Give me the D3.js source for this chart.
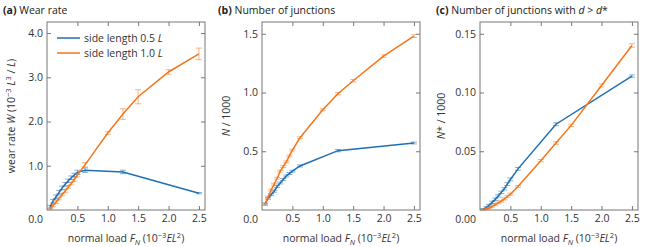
<!DOCTYPE html>
<html>
<head>
<meta charset="UTF-8">
<title>Wear rate and junctions</title>
<script src="https://d3js.org/d3.v7.min.js"></script>
<style>
  body { margin: 0; padding: 0; background: #fff; }
  svg { display: block; font-family: "Open Sans", "Noto Sans", sans-serif; }
  .tick text { font-size: 10.5px; fill: #333; }
  .tick line { stroke: #777; }
  .frame { fill: none; stroke: #777; stroke-width: 1; }
  .lbl { font-size: 10.5px; fill: #333; }
  .ttl { font-size: 10.5px; fill: #222; }
</style>
</head>
<body>
<svg id="chart" width="650" height="247"></svg>
<script>
// loads shared by the series
const loadSmall = [0.05, 0.1, 0.15, 0.2, 0.25, 0.3, 0.35, 0.4, 0.45, 0.5, 0.625, 1.25, 2.5];
const loadLarge = [0.05, 0.1, 0.15, 0.2, 0.25, 0.3, 0.35, 0.4, 0.45, 0.5, 0.625, 1.0, 1.25, 1.5, 2.0, 2.5];

// (a) wear rate
const wearSmall    = [0.07, 0.2, 0.3, 0.4, 0.5, 0.58, 0.66, 0.73, 0.79, 0.85, 0.9, 0.86, 0.38];
const wearSmallErr = [0.03, 0.04, 0.04, 0.04, 0.04, 0.04, 0.04, 0.04, 0.04, 0.05, 0.05, 0.04, 0.015];
const wearLarge    = [0.03, 0.1, 0.18, 0.26, 0.35, 0.43, 0.52, 0.6, 0.69, 0.79, 1.02, 1.74, 2.17, 2.56, 3.12, 3.53];
const wearLargeErr = [0.02, 0.03, 0.03, 0.03, 0.03, 0.03, 0.03, 0.03, 0.04, 0.04, 0.05, 0.03, 0.12, 0.16, 0.05, 0.13];

// (b) number of junctions / 1000
const junSmall    = [0.05, 0.1, 0.13, 0.16, 0.2, 0.23, 0.26, 0.29, 0.31, 0.33, 0.375, 0.505, 0.57];
const junSmallErr = [0.008, 0.008, 0.008, 0.008, 0.008, 0.008, 0.008, 0.008, 0.008, 0.008, 0.009, 0.01, 0.008];
const junLarge    = [0.05, 0.11, 0.17, 0.22, 0.27, 0.33, 0.37, 0.41, 0.46, 0.51, 0.615, 0.853, 0.99, 1.10, 1.31, 1.48];
const junLargeErr = [0.008, 0.008, 0.008, 0.008, 0.008, 0.008, 0.008, 0.008, 0.008, 0.008, 0.008, 0.008, 0.01, 0.01, 0.01, 0.012];

// (c) junctions with d > d*, / 1000
const bigSmall    = [0.0007, 0.002, 0.004, 0.0065, 0.009, 0.012, 0.015, 0.018, 0.022, 0.026, 0.035, 0.073, 0.114];
const bigSmallErr = [0.0005, 0.0007, 0.0008, 0.001, 0.001, 0.001, 0.001, 0.001, 0.0012, 0.0012, 0.0012, 0.0012, 0.001];
const bigLarge    = [0.0002, 0.0008, 0.0017, 0.003, 0.0045, 0.006, 0.0075, 0.0095, 0.0115, 0.0135, 0.02, 0.042, 0.057, 0.072, 0.106, 0.14];
const bigLargeErr = [0.0003, 0.0004, 0.0005, 0.0006, 0.0006, 0.0007, 0.0007, 0.0008, 0.0008, 0.0008, 0.0008, 0.001, 0.001, 0.001, 0.0012, 0.0015];

const xTicks = [0.5, 1.0, 1.5, 2.0, 2.5];
const seriesNames = ["side length 0.5 ", "side length 1.0 "];
const colors = ["#1f6fb4", "#f5761a"];

const panels = [
  { left: 47,  tag: "(a)", title: "Wear rate", yMax: 4.25, yTicks: [1, 2, 3, 4], fmt: ".1f", zero: "0.0",
    data: [[loadSmall, wearSmall, wearSmallErr], [loadLarge, wearLarge, wearLargeErr]], ylabel: "a", ylx: 15 },
  { left: 262, tag: "(b)", title: "Number of junctions", yMax: 1.6, yTicks: [0.5, 1.0, 1.5], fmt: ".1f", zero: "0.0",
    data: [[loadSmall, junSmall, junSmallErr], [loadLarge, junLarge, junLargeErr]], ylabel: "b", ylx: 230 },
  { left: 480, tag: "(c)", title: "Number of junctions with ", yMax: 0.16, yTicks: [0.05, 0.10, 0.15], fmt: ".2f", zero: "0.00",
    data: [[loadSmall, bigSmall, bigSmallErr], [loadLarge, bigLarge, bigLargeErr]], ylabel: "c", ylx: 445 }
];

const plotTop = 22, plotH = 188, plotW = 158;
const svg = d3.select("#chart");

panels.forEach(p => {
  const g = svg.append("g").attr("transform", `translate(${p.left},${plotTop})`);
  const x = d3.scaleLinear().domain([0, 2.6]).range([0, plotW]);
  const y = d3.scaleLinear().domain([0, p.yMax]).range([plotH, 0]);

  // axes with inward ticks on all four sides
  const bottom = g.append("g").attr("transform", `translate(0,${plotH})`)
    .call(d3.axisBottom(x).tickValues(xTicks).tickSize(-4).tickPadding(5).tickFormat(d3.format(".1f")));
  const left = g.append("g")
    .call(d3.axisLeft(y).tickValues(p.yTicks).tickSize(-4).tickPadding(4).tickFormat(d3.format(p.fmt)));
  const topAx = g.append("g").call(d3.axisTop(x).tickValues(xTicks).tickSize(-4).tickFormat(""));
  const right = g.append("g").attr("transform", `translate(${plotW},0)`)
    .call(d3.axisRight(y).tickValues(p.yTicks).tickSize(-4).tickFormat(""));
  [bottom, left, topAx, right].forEach(a => a.select(".domain").remove());
  g.selectAll(".tick text").attr("font-family", null).attr("font-size", null);
  g.selectAll("g").attr("font-family", null).attr("font-size", null);

  g.append("rect").attr("class", "frame").attr("x", 0).attr("y", 0).attr("width", plotW).attr("height", plotH);

  // shared corner zero label
  g.append("text").attr("class", "lbl").attr("x", -4).attr("y", plotH + 13)
    .attr("text-anchor", "end").text(p.zero);

  // series
  p.data.forEach((s, i) => {
    const pts = s[0].map((v, k) => ({ x: v, y: s[1][k], e: s[2][k] }));
    const eb = g.append("g").attr("stroke", colors[i]).attr("stroke-opacity", 0.55).attr("stroke-width", 1);
    pts.forEach(d => {
      const cx = x(d.x), y1 = y(d.y - d.e), y2 = y(d.y + d.e);
      eb.append("line").attr("x1", cx).attr("x2", cx).attr("y1", y1).attr("y2", y2);
      eb.append("line").attr("x1", cx - 3).attr("x2", cx + 3).attr("y1", y1).attr("y2", y1);
      eb.append("line").attr("x1", cx - 3).attr("x2", cx + 3).attr("y1", y2).attr("y2", y2);
    });
    g.append("path").datum(pts)
      .attr("fill", "none").attr("stroke", colors[i]).attr("stroke-width", 1.5)
      .attr("d", d3.line().x(d => x(d.x)).y(d => y(d.y)));
  });

  // title
  const t = svg.append("text").attr("class", "ttl").attr("x", p.left - 44).attr("y", 14);
  t.append("tspan").attr("font-weight", "bold").text(p.tag);
  t.append("tspan").text(" " + p.title);
  if (p.ylabel === "c") {
    t.append("tspan").attr("font-style", "italic").text("d");
    t.append("tspan").text(" > ");
    t.append("tspan").attr("font-style", "italic").text("d");
    t.append("tspan").text("*");
  }

  // x label
  const xl = svg.append("text").attr("class", "lbl").attr("text-anchor", "middle")
    .attr("x", p.left + plotW / 2).attr("y", 242);
  xl.append("tspan").text("normal load ");
  xl.append("tspan").attr("font-style", "italic").text("F");
  xl.append("tspan").attr("font-style", "italic").attr("font-size", "7.5px").attr("dy", 2.5).text("N");
  xl.append("tspan").attr("dy", -2.5).text(" (10");
  xl.append("tspan").attr("font-size", "7.5px").attr("dy", -4).text("\u22123");
  xl.append("tspan").attr("font-style", "italic").attr("dy", 4).text("EL");
  xl.append("tspan").attr("font-size", "7.5px").attr("dy", -4).text("2");
  xl.append("tspan").attr("dy", 4).text(")");

  // y label
  const yl = svg.append("text").attr("class", "lbl").attr("text-anchor", "middle")
    .attr("transform", `translate(${p.ylx},${plotTop + plotH / 2}) rotate(-90)`);
  if (p.ylabel === "a") {
    yl.append("tspan").text("wear rate ");
    yl.append("tspan").attr("font-style", "italic").text("W");
    yl.append("tspan").text(" (10");
    yl.append("tspan").attr("font-size", "7.5px").attr("dy", -4).text("\u22123");
    yl.append("tspan").attr("dy", 4).text(" ");
    yl.append("tspan").attr("font-style", "italic").text("L");
    yl.append("tspan").attr("font-size", "7.5px").attr("dy", -4).text("3");
    yl.append("tspan").attr("dy", 4).text(" / ");
    yl.append("tspan").attr("font-style", "italic").text("L");
    yl.append("tspan").text(")");
  } else {
    yl.append("tspan").attr("font-style", "italic").text("N");
    yl.append("tspan").text(p.ylabel === "c" ? "* / 1000" : " / 1000");
  }

  // legend in panel (a)
  if (p.ylabel === "a") {
    seriesNames.forEach((name, i) => {
      const ly = 16 + i * 15;
      g.append("line").attr("x1", 10).attr("x2", 33).attr("y1", ly).attr("y2", ly)
        .attr("stroke", colors[i]).attr("stroke-width", 1.5);
      const lt = g.append("text").attr("class", "lbl").attr("x", 37).attr("y", ly + 4);
      lt.append("tspan").text(name);
      lt.append("tspan").attr("font-style", "italic").text("L");
    });
  }
});
</script>
</body>
</html>
